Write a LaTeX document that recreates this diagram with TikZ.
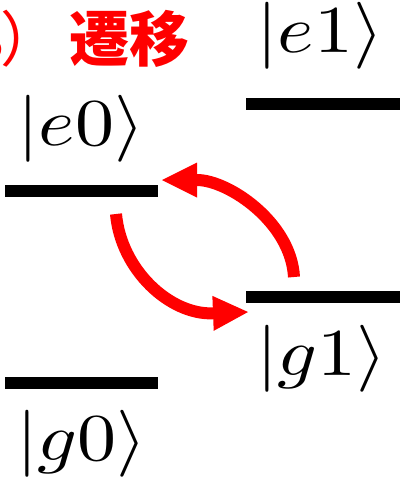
\documentclass[tikz,border=0pt]{standalone}
\usepackage{fontspec}
\newfontfamily\cjk{Noto Sans CJK JP}
\usetikzlibrary{arrows.meta}
\newcommand\bigket[1]{\scalebox{7.8}[6.7]{$|#1\rangle$}}
\tikzset{
  lvl/.style={line width=11.5pt},
  lbl/.style={inner sep=0pt, anchor=base west},
  trans/.style={draw=red, line width=12pt, -{Triangle[length=35pt,width=35pt,line width=0pt]}},
  ttl/.style={inner sep=0pt, anchor=base west, text=red, font=\cjk\bfseries\fontsize{60}{66}\selectfont}
}
\begin{document}
\begin{tikzpicture}[x=1pt,y=-1pt]
\useasboundingbox (0,0) rectangle (404,483);
% levels
\coordinate (e0L) at (5,191);   \coordinate (e0R) at (158,191);
\coordinate (g0L) at (5,383);   \coordinate (g0R) at (158,383);
\coordinate (e1L) at (246,104); \coordinate (e1R) at (400,104);
\coordinate (g1L) at (246,297); \coordinate (g1R) at (400,297);
\draw[lvl] (e0L) -- (e0R);
\draw[lvl] (g0L) -- (g0R);
\draw[lvl] (e1L) -- (e1R);
\draw[lvl] (g1L) -- (g1R);
% labels
\node[lbl] (e0l) at (17,145) {\bigket{e0}};
\node[lbl] (g0l) at (16,460.5) {\bigket{g0}};
\node[lbl] (e1l) at (256,52.5) {\bigket{e1}};
\node[lbl] (g1l) at (256,375.5) {\bigket{g1}};
% title
\node[ttl] (title) at (-32,61) {3\kern-4pt{\mdseries ）}\hspace{9pt}遷移};
% transitions
\coordinate (a1s) at (116,214); \coordinate (a1e) at (248,312);
\coordinate (a2s) at (294,277); \coordinate (a2e) at (162,180);
\draw[trans] (a1s) .. controls (121,270) and (170,315) .. (a1e);
\draw[trans] (a2s) .. controls (291,222) and (228,180) .. (a2e);
\end{tikzpicture}
\end{document}
